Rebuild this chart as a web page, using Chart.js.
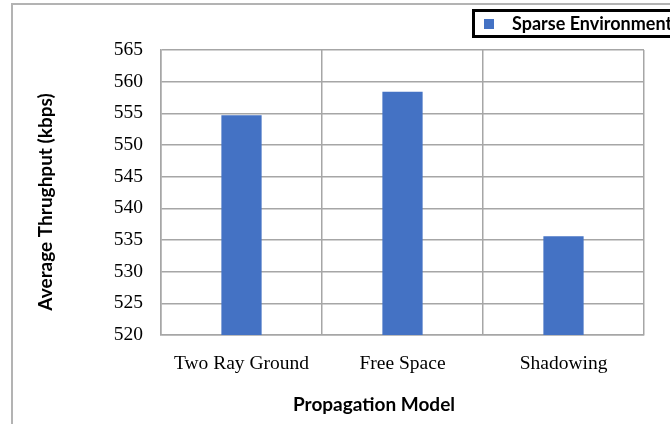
<!DOCTYPE html>
<html>
<head>
<meta charset="utf-8">
<script src="https://cdn.jsdelivr.net/npm/chart.js@4/dist/chart.umd.min.js"></script>
<style>
  html, body { margin: 0; padding: 0; background: #fff; }
  #wrap { position: relative; width: 670px; height: 424px; overflow: hidden; }
</style>
</head>
<body>
<div id="wrap">
  <canvas id="throughputChart" width="670" height="424"></canvas>
</div>
<script>
const categories = ['Two Ray Ground', 'Free Space', 'Shadowing'];
const sparseValues = [554.7, 558.4, 535.6];
const seriesLabel = 'Sparse Environment';
const yTicks = [520, 525, 530, 535, 540, 545, 550, 555, 560, 565];
const xTitle = 'Propagation Model';
const yTitle = 'Average Thrughput (kbps)';

const barColor = '#4472C4';
const gridColor = '#a6a6a6';

// frame, titles and legend box drawn by hand
const decorPlugin = {
    id: 'decor',
    beforeDraw(chart) {
        const ctx = chart.ctx;
        ctx.save();
        ctx.fillStyle = '#fff';
        ctx.fillRect(0, 0, chart.width, chart.height);
        ctx.strokeStyle = '#b3b3b3';
        ctx.lineWidth = 2;
        ctx.strokeRect(12, 4, 700, 440);
        ctx.restore();
    },
    afterDraw(chart) {
        const ctx = chart.ctx;
        const area = chart.chartArea;
        ctx.save();
        ctx.fillStyle = '#000';
        ctx.font = 'bold 19px Lato';
        ctx.textAlign = 'center';
        ctx.textBaseline = 'middle';
        ctx.fillText(xTitle, area.left + area.width * 0.441, 405);

        ctx.translate(46, 202);
        ctx.rotate(-Math.PI / 2);
        ctx.fillText(yTitle, 0, 0);
        ctx.restore();

        // legend
        ctx.save();
        ctx.strokeStyle = '#000';
        ctx.lineWidth = 3;
        ctx.strokeRect(473.5, 10.5, 260, 26);
        ctx.fillStyle = chart.data.datasets[0].backgroundColor;
        ctx.fillRect(484, 19, 10, 10);
        ctx.fillStyle = '#000';
        ctx.font = 'bold 18px Lato';
        ctx.textAlign = 'left';
        ctx.textBaseline = 'middle';
        ctx.fillText(chart.data.datasets[0].label, 512, 24);
        ctx.restore();
    }
};

const ctx = document.getElementById('throughputChart').getContext('2d');
new Chart(ctx, {
    type: 'bar',
    data: {
        labels: categories,
        datasets: [{
            label: seriesLabel,
            data: sparseValues,
            backgroundColor: barColor,
            borderWidth: 0,
            barPercentage: 0.5,
            categoryPercentage: 0.5
        }]
    },
    options: {
        responsive: false,
        animation: false,
        layout: { padding: { left: 0, right: 26, top: 50, bottom: 0 } },
        plugins: {
            legend: { display: false },
            tooltip: { enabled: false }
        },
        scales: {
            x: {
                afterFit(scale) { scale.height = 89; },
                grid: { color: gridColor, lineWidth: 1.5, drawTicks: false, offset: true },
                border: { color: gridColor, width: 1.5 },
                ticks: {
                    color: '#000',
                    padding: 17,
                    font: { family: 'Liberation Serif', size: 19.5 }
                }
            },
            y: {
                min: 520,
                max: 565,
                afterFit(scale) { scale.width = 161; },
                afterBuildTicks(scale) { scale.ticks = yTicks.map(v => ({ value: v })); },
                grid: { color: gridColor, lineWidth: 1.5, drawTicks: false },
                border: { color: gridColor, width: 1.5 },
                ticks: {
                    color: '#000',
                    padding: 18,
                    font: { family: 'Liberation Serif', size: 19.5 }
                }
            }
        }
    },
    plugins: [decorPlugin]
});
</script>
</body>
</html>
